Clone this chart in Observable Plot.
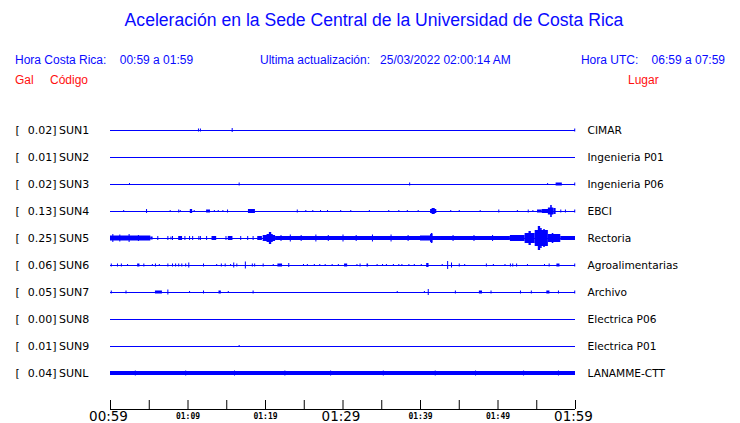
<!DOCTYPE html>
<html>
<head>
<meta charset="utf-8">
<script src="https://cdn.jsdelivr.net/npm/d3@7"></script>
<script src="https://cdn.jsdelivr.net/npm/@observablehq/plot@0.6"></script>
<style>
  html, body { margin: 0; padding: 0; background: #fff; }
  #wrap { position: relative; width: 740px; height: 423px; overflow: hidden; font-family: "Liberation Sans", Arial, sans-serif; }
  .t { position: absolute; white-space: pre; line-height: 1; }
  #chart { position: absolute; left: 0; top: 0; }
</style>
</head>
<body>
<div id="wrap">
  <div id="chart"></div>
  <div class="t" id="title" style="left:0;width:748px;text-align:center;top:12px;font-size:17.6px;color:#0a0aff;"></div>
  <div class="t" id="hcr" style="left:15px;top:54px;font-size:12px;color:#0a0aff;"></div>
  <div class="t" id="hupd" style="left:260px;top:54px;font-size:12px;color:#0a0aff;"></div>
  <div class="t" id="hutc" style="right:15px;top:54px;font-size:12px;color:#0a0aff;"></div>
  <div class="t" id="hgal" style="left:15px;top:74px;font-size:12px;color:#ff1010;"></div>
  <div class="t" id="hcod" style="left:50px;top:74px;font-size:12px;color:#ff1010;"></div>
  <div class="t" id="hlug" style="left:628px;top:74px;font-size:12px;color:#ff1010;"></div>
</div>
<script>
// ---------- text ----------
const titleText = "Aceleración en la Sede Central de la Universidad de Costa Rica";
const headerCR = "Hora Costa Rica:    00:59 a 01:59";
const headerUpd = "Ultima actualización:   25/03/2022 02:00:14 AM";
const headerUTC = "Hora UTC:    06:59 a 07:59";
const colGal = "Gal", colCodigo = "Código", colLugar = "Lugar";

// ---------- stations ----------
const codes  = ["SUN1","SUN2","SUN3","SUN4","SUN5","SUN6","SUN7","SUN8","SUN9","SUNL"];
const peaks  = ["0.02","0.01","0.02","0.13","0.25","0.06","0.05","0.00","0.01","0.04"];
const places = ["CIMAR","Ingenieria P01","Ingenieria P06","EBCI","Rectoria","Agroalimentarias","Archivo","Electrica P06","Electrica P01","LANAMME-CTT"];

// ---------- axis (minutes after 00:59) ----------
const tickMinutes = [0,5,10,15,20,25,30,35,40,45,50,55,60];
const labelMinutes = [0,10,20,30,40,50,60];
const labelTexts = ["00:59","01:09","01:19","01:29","01:39","01:49","01:59"];
const labelBig = [true,false,false,true,false,false,true];

// ---------- trace events: [minute, amplitude, duration(min)] ----------
const sun1 = [[11.35,1.5],[11.6,1.5],[15.7,2],[59.9,1.5]];
const sun2 = [];
const sun3 = [[2.45,1],[16.6,1.5],[38.6,1.5],[56.4,1],[57.5,1.5,0.8],[59.9,1.5]];
const sun4 = [[1.7,1],[4.65,2],[7.7,1],[8.8,1.5],[9.0,1],[10.3,2,0.3],[10.8,1],[12.4,1.5,0.5],[13.4,1],[13.9,1],[14.5,1],[15.1,1.5],
  [17.8,2,0.9],[24.1,1.5],[25.2,1],[26.1,1],[27.1,1],[28.0,1],[29.7,1],[31.0,1],[33.4,1],[35.9,1],[37.2,1],[38.3,1],[39.7,1],
  [41.3,2,0.8],[41.5,3,0.4],[43.9,1],[45.0,1],[47.7,1],[50.1,1.5],[52.5,1],[53.9,1.5],[54.5,1],[55.1,1.5,0.6],[55.7,2,1.2],
  [56.5,3.5,0.7],[56.8,6,0.2],[57.2,3,0.3],[58.1,1.5],[58.7,1.5],[59.9,1.5]];
const sun5 = [[0,2.5,5.2],[0.3,4],[1.2,3.5],[2.4,4],[3.6,3],[5.2,1.5,0.3],[6.1,2],[7.4,2],[7.8,1.5],[8.0,2],[8.8,2,0.5],[9.6,2],[10.2,2],[10.6,2],
  [11.4,2],[11.6,2],[12.4,2],[13.1,2,0.6],[14.9,2],[15.2,2,0.6],[16.8,2],[17.7,2],[18.4,2],[19.0,2,0.6],
  [19.7,3,1.6],[20.2,4,0.8],[20.5,6,0.3],[21.3,2,18.7],[22.0,3],[23.2,3.5],[24.6,3],[26.5,3.5],[28.1,3],[30.0,3.5],[31.7,3],[33.8,3.5],
  [36.2,3.5],[38.4,3],[40.0,2.5,1.5],[41.3,4,0.3],[41.4,5,0.2],[41.5,2,1.2],
  [42.6,2,9.0],[44.2,3],[46.9,3],[49.3,3],[51.6,3,1.9],[53.5,5,1.3],[54.0,7,0.3],[54.8,8,1.7],[55.2,12,0.3],[55.5,10,0.2],[55.9,9,0.2],
  [56.5,4,1.6],[57.0,5,0.2],[58.1,2,1.9]];
const sun6 = [[0.1,1.5],[0.9,1.5],[1.4,1.5],[2.2,1],[3.5,1.5,0.3],[4.3,1.5],[5.4,1],[5.8,1.5],[6.3,1],[7.4,1.5],[8.0,1.5],[8.4,1.5],
  [8.8,1.5],[9.2,1.5],[9.7,1.5],[10.1,2.5],[12.0,1.5],[13.7,1],[14.3,1.5],[14.8,1.5],[15.5,1],[15.9,2.5],[16.3,1.5],[17.4,3.5],
  [18.3,1.5],[18.6,1.5],[19.7,1.5],[21.0,1],[21.6,1.5,0.6],[23.0,2],[24.9,1],[25.4,1],[26.3,1],[27.0,1],[27.7,1],[28.6,1],[29.4,1],
  [30.2,1.5,0.4],[31.8,1],[32.2,1.5],[33.1,1.5,0.2],[34.4,1],[35.1,1],[35.6,1],[36.5,1],[37.2,1],[37.6,1],[38.5,1],[39.2,1],
  [40.1,1],[40.8,2,0.3],[42.8,1],[43.5,4],[44.0,2.5],[45.0,1.5],[45.7,1],[48.5,1.5],[49.4,1],[50.9,1],[51.6,1.5],[51.9,1.5],
  [52.4,1.5],[53.8,1],[56.0,1],[56.6,1.5],[57.6,1.5,0.4],[59.9,1.5]];
const sun7 = [[0.1,1.5],[2.0,1.5],[5.8,1.5,0.9],[7.4,2.5],[10.2,1],[12.0,1.5],[14.0,1.5,0.3],[15.2,1],[18.4,1.5],
  [37.0,1],[40.5,1],[41.0,3],[44.5,1.5],[47.6,1.5,0.4],[49.1,1.5],[52.9,1.5],[54.3,1.5],[56.3,1.5,0.4],[57.8,1.5],[59.9,1.5]];
const sun8 = [];
const sun9 = [[16.6,1]];
const sunl = [[0,2,60],[3.2,2.5],[9.7,2.5],[16.0,2.5],[22.5,2.5],[28.4,2.5],[35.2,2.5],[41.9,2.5],[47.1,2.5],[53.3,2.5],[57.8,2.5]];
const traces = [sun1,sun2,sun3,sun4,sun5,sun6,sun7,sun8,sun9,sunl];

// ---------- layout constants ----------
const ROW = 27;                 // vertical units between traces
const AXIS = 279;               // axis line, in the same units
const BLUE = "#0000ff";

document.getElementById("title").textContent = titleText;
document.getElementById("hcr").textContent = headerCR;
document.getElementById("hupd").textContent = headerUpd;
document.getElementById("hutc").textContent = headerUTC;
document.getElementById("hgal").textContent = colGal;
document.getElementById("hcod").textContent = colCodigo;
document.getElementById("hlug").textContent = colLugar;

const rows = codes.map((c, i) => ({i, code: c, peak: peaks[i], place: places[i], y: i * ROW}));
const events = traces.flatMap((tr, i) => tr.map(([t, a, w]) => {
  const d = w === undefined ? 0.13 : w;
  return {x1: t, x2: t + d, y1: i * ROW - a, y2: i * ROW + a};
}));
const ticks = labelMinutes.map((m, k) => ({m, text: labelTexts[k], big: labelBig[k]}));

const chart = Plot.plot({
  width: 740, height: 423,
  marginLeft: 110, marginRight: 165, marginTop: 130, marginBottom: 50,
  x: {domain: [0, 60], range: [110, 575], axis: null},
  y: {domain: [0, 9 * ROW], range: [130, 373], axis: null},
  style: {background: "transparent", overflow: "visible"},
  marks: [
    Plot.ruleY(rows, {y: "y", x1: 0, x2: 60, stroke: BLUE, strokeWidth: 1.2}),
    Plot.rect(events, {x1: "x1", x2: "x2", y1: "y1", y2: "y2", fill: BLUE}),
    // left labels
    Plot.text(rows, {y: "y", text: () => "[", frameAnchor: "left", dx: -95, textAnchor: "start",
      fontFamily: "DejaVu Sans", fontSize: 11, fill: "black"}),
    Plot.text(rows, {y: "y", text: d => d.peak + "]", frameAnchor: "left", dx: -54, textAnchor: "end",
      fontFamily: "DejaVu Sans", fontSize: 11, fill: "black"}),
    Plot.text(rows, {y: "y", text: "code", frameAnchor: "left", dx: -51.5, textAnchor: "start",
      fontFamily: "DejaVu Sans", fontSize: 11, fill: "black"}),
    // right labels
    Plot.text(rows, {y: "y", text: "place", frameAnchor: "right", dx: 12, textAnchor: "start",
      fontFamily: "DejaVu Sans", fontSize: 10.6, fill: "black"}),
    // time axis
    Plot.ruleY([AXIS], {x1: 0, x2: 60, stroke: "black", strokeWidth: 1}),
    Plot.ruleX(tickMinutes, {x: d => d, y1: AXIS - 9, y2: AXIS, stroke: "black", strokeWidth: 1}),
    Plot.text(ticks.filter(d => d.big), {x: "m", y: AXIS + 7.5, dx: -2, text: "text", textAnchor: "middle",
      fontFamily: "DejaVu Sans", fontSize: 13.5, fill: "black"}),
    Plot.text(ticks.filter(d => !d.big), {x: "m", y: AXIS + 7, text: "text", textAnchor: "middle",
      fontFamily: "DejaVu Sans Mono", fontWeight: "bold", fontSize: 8, fill: "black"})
  ]
});
document.getElementById("chart").appendChild(chart);
</script>
</body>
</html>
